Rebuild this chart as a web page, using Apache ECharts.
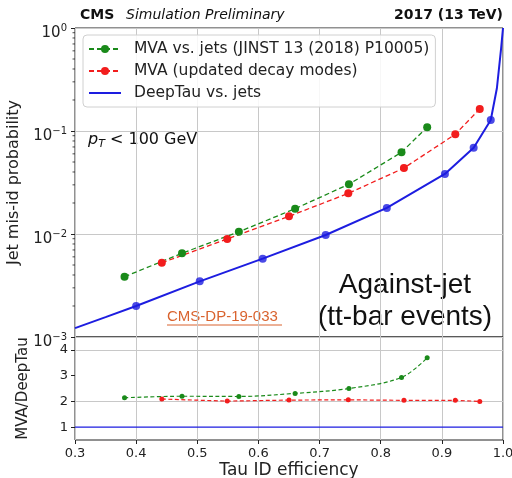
<!DOCTYPE html>
<html>
<head>
<meta charset="utf-8">
<script src="https://cdn.jsdelivr.net/npm/echarts@6/dist/echarts.min.js"></script>
<style>
  html, body { margin: 0; padding: 0; background: #fff; }
  #chart { width: 512px; height: 478px; }
</style>
</head>
<body>
<div id="chart"></div>
<script>
// Tau ID efficiency vs. jet mis-identification probability
const mvaOldName = 'MVA vs. jets (JINST 13 (2018) P10005)';
const mvaNewName = 'MVA (updated decay modes)';
const deepName = 'DeepTau vs. jets';

// MVA vs. jets working points
const mvaOldEff = [0.381, 0.475, 0.568, 0.660, 0.748, 0.834, 0.876];
const mvaOldRate = [0.00385, 0.0065, 0.0105, 0.0176, 0.0304, 0.0621, 0.109];
// MVA with updated decay modes working points
const mvaNewEff = [0.442, 0.549, 0.650, 0.747, 0.838, 0.922, 0.962];
const mvaNewRate = [0.00526, 0.00894, 0.01485, 0.0248, 0.0437, 0.0929, 0.1636];
// DeepTau working points
const deepEff = [0.400, 0.504, 0.607, 0.710, 0.810, 0.905, 0.952, 0.980];
const deepRate = [0.0020, 0.00347, 0.00576, 0.00978, 0.0179, 0.0383, 0.0689, 0.128];
// DeepTau continuous curve
const deepCurveEff = [0.300, 0.350, 0.400, 0.504, 0.607, 0.710, 0.810, 0.905, 0.952, 0.980, 0.990, 0.997, 1.000];
const deepCurveRate = [0.00122, 0.00156, 0.0020, 0.00347, 0.00576, 0.00978, 0.0179, 0.0383, 0.0689, 0.128, 0.26, 0.64, 1.0];

// Ratio to DeepTau at the same efficiency
const ratioOld = [2.14, 2.20, 2.19, 2.31, 2.50, 2.93, 3.69];
const ratioNew = [2.09, 2.01, 2.05, 2.06, 2.04, 2.04, 2.00];
const ratioDeepEff = [0.3, 1.0];
const ratioDeep = [1, 1];

// Log-axis minor tick values
const minorTickValues = [];
[0.001, 0.01, 0.1].forEach(d => { for (let k = 2; k <= 9; k++) minorTickValues.push(+(d * k).toPrecision(3)); });

const zip = (xs, ys) => xs.map((x, i) => [x, ys[i]]);

const GREEN = '#1a8a1a';
const RED = '#f21d1d';
const BLUE = '#1d1de0';
const GRID = '#c8c8c8';
const FONT = 'DejaVu Sans';

const chart = echarts.init(document.getElementById('chart'), null, { renderer: 'canvas' });

const expLabel = v => {
  const e = Math.round(Math.log10(v));
  return '{b|10}{s|' + (e < 0 ? '\u2212' + (-e) : e) + '}';
};

chart.setOption({
  animation: false,
  backgroundColor: '#fff',
  textStyle: { fontFamily: FONT },
  grid: [
    { left: 75, top: 28, width: 428, height: 309, show: true, borderColor: '#222', borderWidth: 1,
      backgroundColor: 'transparent', containLabel: false, outerBoundsMode: 'none' },
    { left: 75, top: 337, width: 428, height: 103, show: true, borderColor: '#222', borderWidth: 1,
      backgroundColor: 'transparent', containLabel: false, outerBoundsMode: 'none' }
  ],
  xAxis: [
    {
      gridIndex: 0, type: 'value', min: 0.3, max: 1.0, interval: 0.1,
      axisLine: { show: false }, axisTick: { show: false }, axisLabel: { show: false },
      splitLine: { show: true, lineStyle: { color: GRID, width: 1 } }
    },
    {
      gridIndex: 1, type: 'value', min: 0.3, max: 1.0, interval: 0.1,
      axisLine: { show: false },
      axisTick: { show: true, length: 4, lineStyle: { color: '#222' } },
      axisLabel: { fontFamily: FONT, fontSize: 13, color: '#222', margin: 7, formatter: v => v.toFixed(1) },
      splitLine: { show: true, lineStyle: { color: GRID, width: 1 } },
      name: 'Tau ID efficiency', nameLocation: 'middle', nameGap: 22,
      nameTextStyle: { fontFamily: FONT, fontSize: 17, color: '#222' }
    }
  ],
  yAxis: [
    {
      gridIndex: 0, type: 'log', logBase: 10, min: 0.001, max: 1,
      axisLine: { show: false },
      axisTick: { show: true, length: 4, lineStyle: { color: '#222' } },
      axisLabel: {
        margin: 8, formatter: expLabel, padding: [10, 0, 0, 0],
        rich: {
          b: { fontFamily: FONT, fontSize: 15, color: '#222' },
          s: { fontFamily: FONT, fontSize: 10, color: '#222', padding: [0, 0, 9, 0] }
        }
      },
      splitLine: { show: true, lineStyle: { color: GRID, width: 1 } },
      name: 'Jet mis-id probability', nameLocation: 'middle', nameGap: 41,
      nameTextStyle: { fontFamily: FONT, fontSize: 16, color: '#222' }
    },
    {
      gridIndex: 1, type: 'value', min: 0.5, max: 4.5, interval: 0.5,
      axisLine: { show: false },
      axisTick: { show: true, length: 4, customValues: [1, 2, 3, 4], lineStyle: { color: '#222' } },
      axisLabel: { fontFamily: FONT, fontSize: 13, color: '#222', margin: 7, customValues: [1, 2, 3, 4] },
      splitLine: { show: true, lineStyle: { color: ['rgba(0,0,0,0)', GRID], width: 1 } },
      name: 'MVA/DeepTau', nameLocation: 'middle', nameGap: 44,
      nameTextStyle: { fontFamily: FONT, fontSize: 15, color: '#222' }
    }
  ],
  legend: {
    data: [mvaOldName, mvaNewName, { name: deepName, itemStyle: { opacity: 0 } }],
    orient: 'vertical', left: 83, top: 35,
    itemWidth: 32, itemHeight: 10, itemGap: 4,
    padding: [5, 6, 5, 5],
    borderColor: '#d0d0d0', borderWidth: 1, borderRadius: 4,
    backgroundColor: 'rgba(255,255,255,0.85)',
    textStyle: { fontFamily: FONT, fontSize: 15.5, color: '#222', padding: [0, 0, 0, 8], lineHeight: 18 }
  },
  series: [
    {
      name: mvaOldName, type: 'line', xAxisIndex: 0, yAxisIndex: 0,
      data: zip(mvaOldEff, mvaOldRate),
      symbol: 'circle', symbolSize: 8, z: 5,
      itemStyle: { color: GREEN },
      lineStyle: { color: GREEN, width: 1.3, type: [5, 3] }
    },
    {
      name: mvaNewName, type: 'line', xAxisIndex: 0, yAxisIndex: 0,
      data: zip(mvaNewEff, mvaNewRate),
      symbol: 'circle', symbolSize: 8, z: 5,
      itemStyle: { color: RED },
      lineStyle: { color: RED, width: 1.3, type: [5, 3] }
    },
    {
      name: deepName, type: 'line', xAxisIndex: 0, yAxisIndex: 0,
      data: zip(deepCurveEff, deepCurveRate),
      symbol: 'none', z: 4,
      itemStyle: { color: BLUE },
      lineStyle: { color: BLUE, width: 2 }
    },
    {
      name: 'DeepTau points', type: 'scatter', xAxisIndex: 0, yAxisIndex: 0,
      data: zip(deepEff, deepRate),
      symbol: 'circle', symbolSize: 8, z: 6,
      itemStyle: { color: BLUE }
    },
    {
      name: 'minor ticks', type: 'custom', xAxisIndex: 0, yAxisIndex: 0,
      data: minorTickValues.map(v => [0.3, v]), silent: true, clip: false,
      renderItem: (params, api) => {
        const p = api.coord([api.value(0), api.value(1)]);
        return {
          type: 'line',
          shape: { x1: p[0] - 2.5, y1: p[1], x2: p[0], y2: p[1] },
          style: { stroke: '#222', lineWidth: 0.8 }
        };
      }
    },
    {
      name: 'MVA vs. jets ratio', type: 'line', xAxisIndex: 1, yAxisIndex: 1,
      data: zip(mvaOldEff, ratioOld), smooth: 0.35,
      symbol: 'circle', symbolSize: 5, z: 5,
      itemStyle: { color: GREEN },
      lineStyle: { color: GREEN, width: 1.2, type: [4, 2.5] }
    },
    {
      name: 'MVA updated ratio', type: 'line', xAxisIndex: 1, yAxisIndex: 1,
      data: zip(mvaNewEff, ratioNew),
      symbol: 'circle', symbolSize: 5, z: 5,
      itemStyle: { color: RED },
      lineStyle: { color: RED, width: 1.2, type: [4, 2.5] }
    },
    {
      name: 'DeepTau ratio', type: 'line', xAxisIndex: 1, yAxisIndex: 1,
      data: zip(ratioDeepEff, ratioDeep),
      symbol: 'none', z: 4,
      lineStyle: { color: BLUE, width: 1.2 }
    }
  ],
  graphic: [
    { type: 'text', left: 80, top: 8, style: { text: 'CMS', font: 'bold 14px "DejaVu Sans"', fill: '#111' } },
    { type: 'text', left: 126, top: 8, style: { text: 'Simulation Preliminary', font: 'italic 14px "DejaVu Sans"', fill: '#111' } },
    { type: 'text', right: 9, top: 8, style: { text: '2017 (13 TeV)', font: 'bold 14px "DejaVu Sans"', fill: '#111' } },
    {
      type: 'text', left: 88, top: 132,
      style: {
        text: '{i|p}{t|T}{n| < 100 GeV}',
        rich: {
          i: { font: 'italic 16px "DejaVu Sans"', fill: '#111' },
          t: { font: 'italic 11px "DejaVu Sans"', fill: '#111', padding: [8, 0, 0, 0] },
          n: { font: '16px "DejaVu Sans"', fill: '#111' }
        }
      }
    },
    { type: 'text', left: 167, top: 309, style: { text: 'CMS-DP-19-033', font: '15px "Liberation Sans"', fill: '#d9632e' } },
    { type: 'line', shape: { x1: 167, y1: 325, x2: 282, y2: 325 }, style: { stroke: '#d9632e', lineWidth: 1 } },
    { type: 'text', x: 405, y: 285, style: { text: 'Against-jet', font: '28px "Liberation Sans"', fill: '#111', align: 'center', verticalAlign: 'middle' } },
    { type: 'text', x: 405, y: 317, style: { text: '(tt-bar events)', font: '28px "Liberation Sans"', fill: '#111', align: 'center', verticalAlign: 'middle' } }
  ]
});
</script>
</body>
</html>
